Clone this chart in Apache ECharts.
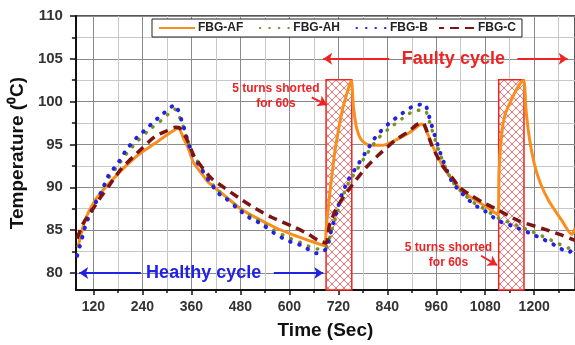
<!DOCTYPE html>
<html>
<head>
<meta charset="utf-8">
<script src="https://cdn.jsdelivr.net/npm/echarts@6/dist/echarts.min.js"></script>
<style>
  html, body { margin: 0; padding: 0; background: #fff; }
  #chart { width: 575px; height: 345px; }
</style>
</head>
<body>
<div id="chart"></div>
<script>
// tick positions
const xMajor = [120, 240, 360, 480, 600, 720, 840, 960, 1080, 1200];
const xMinor = [180, 300, 420, 540, 660, 780, 900, 1020, 1140, 1260];
const yMajor = [80, 85, 90, 95, 100, 105, 110];
const yMinor = [82.5, 87.5, 92.5, 97.5, 102.5, 107.5];

// [time (s), temperature (C)]
const fbgAF = [
  [82, 83.0], [99, 86.1], [123, 88.4], [148, 89.9], [189, 92.0], [230, 93.8], [270, 95.1],
  [300, 96.1], [328, 96.9], [340, 95.8], [352, 94.6], [365, 92.9], [385, 91.6], [401, 90.6],
  [442, 89.0], [483, 87.4], [524, 86.3], [565, 85.3], [606, 84.5], [647, 83.8], [686, 83.2],
  [690, 85.0], [695, 87.5], [702, 90.5], [712, 94.3], [729, 98.8], [745, 101.6], [752, 102.4],
  [757, 99.4], [765, 96.9], [777, 95.5], [798, 94.9], [827, 94.9], [860, 95.5], [892, 96.3],
  [925, 97.4], [941, 96.0], [957, 94.2], [982, 92.0], [1015, 90.0], [1039, 89.0], [1080, 87.8],
  [1111, 86.8], [1114, 92.0], [1120, 96.0], [1128, 98.4], [1145, 100.3], [1161, 101.8],
  [1174, 102.5], [1180, 99.0], [1188, 95.8], [1200, 92.8], [1215, 90.5], [1236, 88.4],
  [1268, 86.1], [1292, 84.5], [1300, 85.2]
];
const fbgAH = [
  [80, 82.5], [90, 84.0], [103, 86.0], [123, 88.1], [140, 89.6], [156, 91.0], [181, 92.6],
  [201, 93.9], [226, 95.3], [254, 96.6], [262, 96.9], [291, 98.0], [319, 99.1], [336, 97.6],
  [348, 95.8], [360, 94.2], [381, 92.6], [401, 91.0], [426, 89.6], [442, 88.9], [471, 87.8],
  [500, 86.8], [532, 85.9], [561, 85.0], [594, 84.2], [630, 83.5], [667, 82.8], [690, 83.0],
  [704, 85.0], [717, 87.0], [729, 88.7], [745, 90.5], [765, 92.0], [786, 93.6], [806, 95.0],
  [815, 95.6], [843, 96.8], [876, 98.0], [905, 98.9], [933, 99.0], [937, 98.6], [949, 96.8],
  [970, 93.8], [998, 90.8], [1023, 89.4], [1052, 88.2], [1080, 87.4], [1112, 86.4],
  [1145, 85.8], [1186, 85.0], [1219, 84.3], [1252, 83.6], [1285, 82.9], [1300, 83.5]
];
const fbgB = [
  [80, 82.0], [90, 83.7], [103, 85.9], [123, 88.0], [140, 89.5], [156, 91.3], [181, 92.9],
  [201, 94.4], [226, 95.8], [254, 97.0], [262, 97.4], [291, 98.6], [319, 99.6], [336, 97.8],
  [348, 95.9], [360, 94.1], [381, 92.4], [401, 90.9], [426, 89.3], [442, 88.8], [471, 87.6],
  [500, 86.5], [532, 85.7], [561, 84.7], [594, 83.8], [630, 83.2], [667, 82.3], [690, 82.8],
  [704, 85.2], [717, 87.3], [729, 89.2], [745, 90.9], [765, 92.4], [786, 94.0], [806, 95.5],
  [815, 96.1], [843, 97.4], [876, 98.6], [905, 99.5], [933, 99.7], [937, 99.2], [949, 97.2],
  [970, 94.0], [998, 90.7], [1023, 89.3], [1052, 88.0], [1080, 87.2], [1112, 86.1],
  [1145, 85.5], [1186, 84.7], [1219, 84.0], [1252, 83.2], [1285, 82.4], [1300, 83.2]
];
const fbgC = [
  [80, 84.0], [95, 85.8], [115, 87.2], [140, 89.0], [160, 90.3], [189, 92.2], [238, 94.5],
  [270, 95.9], [300, 96.6], [320, 97.0], [332, 96.9], [348, 95.7], [365, 93.8], [385, 92.4],
  [410, 91.0], [442, 89.9], [475, 88.8], [507, 87.8], [556, 86.5], [614, 85.3], [647, 84.5],
  [671, 83.8], [690, 83.5], [698, 85.5], [712, 87.2], [729, 88.6], [753, 90.2], [786, 92.2],
  [819, 93.8], [860, 95.5], [892, 96.5], [921, 97.5], [930, 97.4], [949, 94.9], [974, 92.6],
  [998, 91.2], [1019, 89.9], [1047, 89.0], [1075, 88.2], [1105, 87.5], [1161, 86.1],
  [1219, 85.2], [1268, 84.4], [1300, 83.8]
];

// shorted windows [start, end] in s, and their top in C
const shortWindows = [[690, 753], [1113, 1175]];
const shortTop = 102.55;

const RED = '#ee2424';
const BLUE = '#2222e6';
const FONT = '"Liberation Sans", Arial, sans-serif';

// cross-hatch fill for the shorted windows
const hatch = document.createElement('canvas');
hatch.width = 8;
hatch.height = 8;
const hc = hatch.getContext('2d');
hc.fillStyle = '#fff';
hc.fillRect(0, 0, 8, 8);
hc.strokeStyle = 'rgba(235,50,50,0.85)';
hc.lineWidth = 0.8;
hc.beginPath();
hc.moveTo(0, 0); hc.lineTo(8, 8);
hc.moveTo(8, 0); hc.lineTo(0, 8);
hc.stroke();

const arrow = (from, to, color) => [
  { coord: from, lineStyle: { color: color } },
  { coord: to }
];
const note = (coord, text, color, size) => ({
  coord: coord,
  label: {
    show: true, formatter: text, color: color, fontFamily: FONT,
    fontWeight: 'bold', fontSize: size, lineHeight: size + 3, position: 'inside'
  }
});
const plain = v => String(v);

const chart = echarts.init(document.getElementById('chart'));
chart.setOption({
  animation: false,
  backgroundColor: '#fff',
  grid: {
    left: 75, right: 0, top: 16, bottom: 53,
    show: true, borderColor: '#222', borderWidth: 1.5, backgroundColor: '#fff'
  },
  legend: {
    data: ['FBG-AF', 'FBG-AH', 'FBG-B', 'FBG-C'],
    left: 152, top: 19,
    itemWidth: 36, itemHeight: 10, itemGap: 10,
    padding: [3, 6],
    backgroundColor: '#fff', borderColor: '#222', borderWidth: 1,
    itemStyle: { opacity: 0 },
    textStyle: { fontFamily: FONT, fontWeight: 'bold', fontSize: 12, color: '#222', padding: [0, 0, 0, -2] }
  },
  xAxis: [
    {
      type: 'value', min: 77, max: 1300, position: 'bottom',
      name: 'Time (Sec)', nameLocation: 'middle', nameGap: 31,
      nameTextStyle: { fontFamily: FONT, fontWeight: 'bold', fontSize: 19, color: '#111' },
      axisLine: { show: true, lineStyle: { color: '#111', width: 2 } },
      axisTick: { show: true, customValues: xMajor, length: 5, lineStyle: { color: '#111', width: 1.5 } },
      axisLabel: { customValues: xMajor, formatter: plain, margin: 10, fontFamily: FONT, fontWeight: 'bold', fontSize: 14, color: '#333' },
      splitLine: { show: true, lineStyle: { color: '#8a8a8a', width: 1 } }
    },
    {
      type: 'value', min: 77, max: 1300, position: 'bottom',
      axisLine: { show: false },
      axisTick: { show: true, customValues: xMinor, length: 3, lineStyle: { color: '#111', width: 1.5 } },
      axisLabel: { show: false, customValues: xMinor },
      splitLine: { show: true, lineStyle: { color: '#c8c8c8', width: 1 } }
    }
  ],
  yAxis: [
    {
      type: 'value', min: 78, max: 110, position: 'left',
      name: 'Temperature (\u2070C)', nameLocation: 'middle', nameGap: 41,
      nameTextStyle: { fontFamily: FONT, fontWeight: 'bold', fontSize: 19, color: '#111' },
      axisLine: { show: true, lineStyle: { color: '#111', width: 2 } },
      axisTick: { show: true, customValues: yMajor, length: 6, lineStyle: { color: '#111', width: 1.5 } },
      axisLabel: { customValues: yMajor, formatter: plain, margin: 13, fontFamily: FONT, fontWeight: 'bold', fontSize: 15, color: '#333' },
      splitLine: { show: true, lineStyle: { color: '#8a8a8a', width: 1 } }
    },
    {
      type: 'value', min: 78, max: 110, position: 'left',
      axisLine: { show: false },
      axisTick: { show: true, customValues: yMinor, length: 4, lineStyle: { color: '#111', width: 1.5 } },
      axisLabel: { show: false, customValues: yMinor },
      splitLine: { show: true, lineStyle: { color: '#c8c8c8', width: 1 } }
    }
  ],
  series: [
    {
      name: 'annotations', type: 'line', data: [], silent: true,
      markArea: {
        silent: true,
        itemStyle: {
          color: { image: hatch, repeat: 'repeat' },
          borderColor: RED, borderWidth: 1.5
        },
        data: shortWindows.map(w => [{ coord: [w[0], shortTop] }, { coord: [w[1], 78] }])
      },
      markLine: {
        silent: true, symbol: ['none', 'arrow'], symbolSize: 9,
        label: { show: false },
        lineStyle: { type: 'solid', width: 2 },
        data: [
          arrow([845, 105], [683, 105], RED),
          arrow([1159, 105], [1282, 105], RED),
          arrow([236, 80], [85, 80], BLUE),
          arrow([562, 80], [683, 80], BLUE),
          arrow([655, 100.5], [692, 99.6], RED),
          arrow([1070, 82.0], [1109, 80.9], RED)
        ]
      },
      markPoint: {
        silent: true, symbol: 'circle', symbolSize: 0,
        data: [
          note([1002, 105], 'Faulty cycle', RED, 18),
          note([390, 80], 'Healthy cycle', BLUE, 18),
          note([567, 100.6], '5 turns shorted\nfor 60s', RED, 12),
          note([990, 82.1], '5 turns shorted\nfor 60s', RED, 12)
        ]
      }
    },
    {
      name: 'FBG-AF', type: 'line', data: fbgAF, symbol: 'none', smooth: 0.25,
      lineStyle: { color: '#f98e1d', width: 3 }, itemStyle: { color: '#f98e1d' }
    },
    {
      name: 'FBG-AH', type: 'line', data: fbgAH, symbol: 'none', smooth: 0.25,
      lineStyle: { color: '#7a8f25', width: 3.5, type: [0.5, 9], cap: 'round', dashOffset: 4 },
      itemStyle: { color: '#7a8f25' }
    },
    {
      name: 'FBG-B', type: 'line', data: fbgB, symbol: 'none', smooth: 0.25,
      lineStyle: { color: BLUE, width: 4, type: [0.5, 9], cap: 'round' },
      itemStyle: { color: BLUE }
    },
    {
      name: 'FBG-C', type: 'line', data: fbgC, symbol: 'none', smooth: 0.25,
      lineStyle: { color: '#7d1414', width: 3.5, type: [9, 6] },
      itemStyle: { color: '#7d1414' }
    }
  ]
});
</script>
</body>
</html>
